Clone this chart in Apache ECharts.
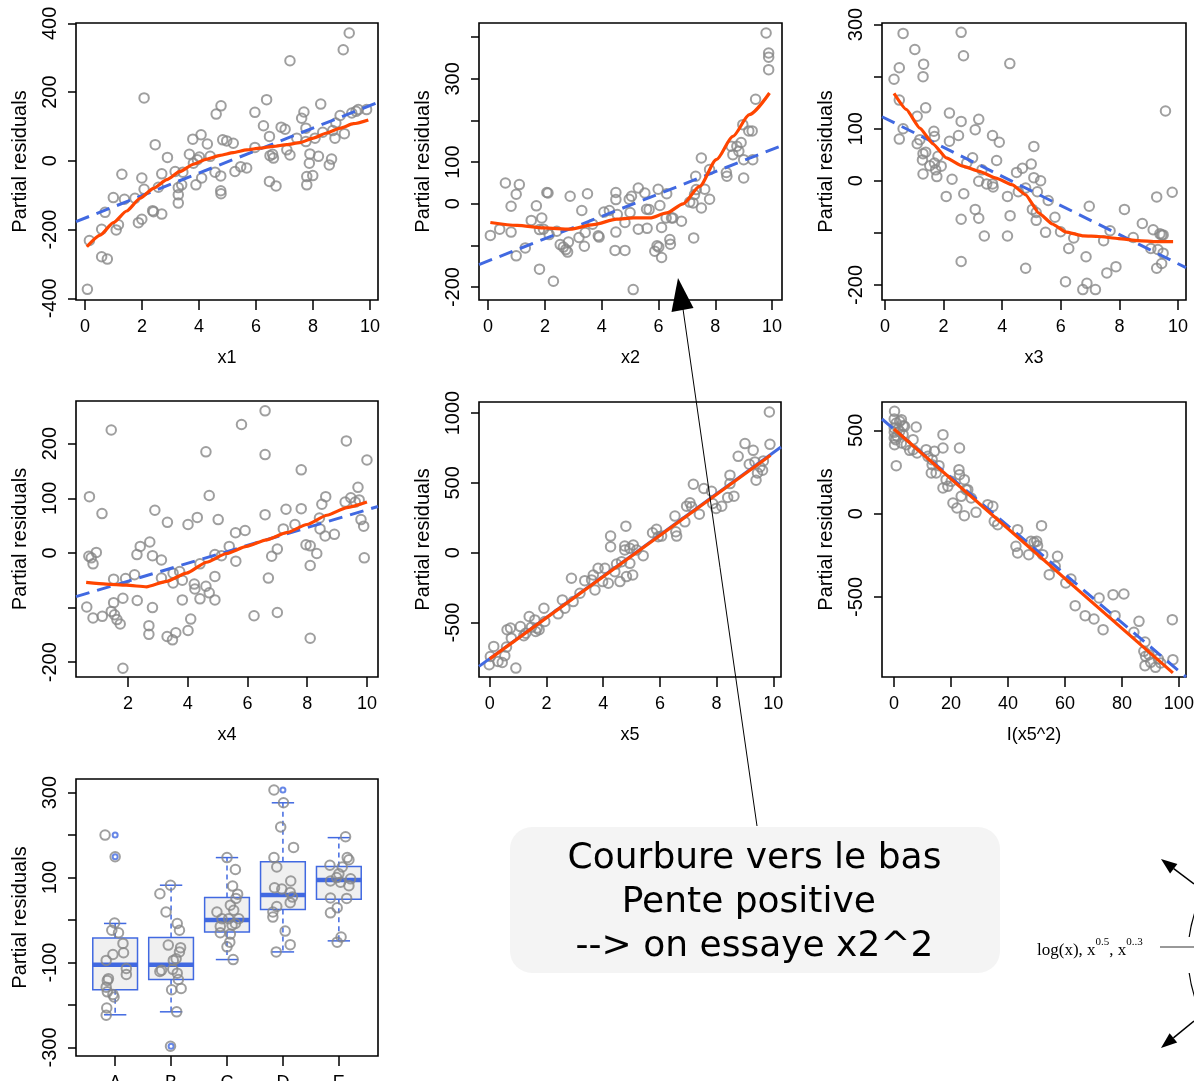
<!DOCTYPE html>
<html><head><meta charset="utf-8">
<script src="https://cdn.jsdelivr.net/npm/echarts@6/dist/echarts.min.js"></script>
<style>html,body{margin:0;padding:0;background:#fff}#c{width:1194px;height:1081px}</style>
</head><body><div id="c"></div>
<script>
// ---------- DATA ----------
const x1Pts = [[0.08,-374],[0.15,-232],[0.58,-199],[0.58,-279],[0.78,-286],[0.70,-150],[0.99,-107],[1.09,-201],[1.17,-186],[1.29,-39],[1.38,-112],[1.75,-109],[1.87,-180],[1.99,-170],[1.99,-50],[2.07,-83],[2.07,183],[2.37,-145],[2.40,-148],[2.46,47],[2.57,-77],[2.69,-155],[2.69,-38],[2.89,10],[3.16,-31],[3.27,-99],[3.27,-123],[3.27,-78],[3.39,-70],[3.43,-33],[3.66,19],[3.78,63],[3.80,-7],[3.89,-70],[3.94,3],[4.01,11],[4.09,-50],[4.07,76],[4.29,49],[4.39,13],[4.60,136],[4.56,-33],[4.77,160],[4.76,-44],[4.76,-87],[4.77,-96],[4.83,61],[4.97,58],[5.20,51],[5.26,-31],[5.46,-17],[5.67,-21],[5.96,141],[5.96,39],[6.26,102],[6.37,178],[6.47,71],[6.47,-60],[6.49,15],[6.58,19],[6.61,8],[6.70,-73],[6.88,98],[7.02,92],[7.08,32],[7.19,291],[7.19,17],[7.43,66],[7.60,124],[7.68,142],[7.75,95],[7.75,56],[7.78,-46],[7.78,-70],[7.87,-7],[7.89,20],[7.99,-43],[8.07,66],[8.19,13],[8.27,165],[8.34,83],[8.57,-12],[8.65,5],[8.69,88],[8.77,66],[8.80,110],[8.95,132],[9.06,323],[9.10,79],[9.27,372],[9.36,139],[9.51,144],[9.59,149],[9.88,149]];
const x1Fit = [[-0.32,-177],[10.28,170]];
const x1Smooth = [[0.06,-250],[0.53,-216],[0.99,-180],[1.46,-146],[1.93,-109],[2.40,-80],[2.87,-55],[3.33,-31],[3.80,-10],[4.27,5],[4.74,16],[5.20,24],[5.67,32],[6.14,37],[6.61,42],[7.08,47],[7.54,53],[8.01,66],[8.48,81],[8.95,95],[9.42,108],[9.94,119]];

const x2Pts = [[0.08,-76],[0.41,-61],[0.61,50],[0.81,-6],[0.81,-68],[0.99,23],[1.10,46],[0.99,-125],[1.31,-106],[1.52,-40],[1.70,-5],[1.81,-62],[1.81,-157],[1.89,-34],[1.95,-61],[2.07,27],[2.11,26],[2.15,-74],[2.30,-186],[2.42,-66],[2.54,-98],[2.65,-104],[2.74,-110],[2.80,-116],[2.83,-92],[2.89,18],[3.20,-81],[3.30,-16],[3.39,-102],[3.42,-69],[3.50,24],[3.68,-49],[3.88,-77],[3.91,-80],[4.08,-20],[4.27,-16],[4.47,-112],[4.50,27],[4.50,10],[4.50,-68],[4.55,-26],[4.82,-112],[4.82,-45],[4.97,11],[5.00,-21],[5.05,18],[5.11,-206],[5.29,38],[5.29,-61],[5.52,26],[5.58,-13],[5.60,-59],[5.67,-14],[5.87,-114],[5.95,-101],[5.99,35],[6.01,-104],[6.05,-4],[6.11,-57],[6.11,-129],[6.29,24],[6.27,-34],[6.40,-86],[6.42,-97],[6.46,-34],[6.51,-34],[6.81,-42],[7.10,4],[7.22,2],[7.24,-82],[7.27,22],[7.31,66],[7.33,34],[7.51,110],[7.51,-10],[7.63,35],[7.80,82],[7.80,11],[8.39,75],[8.41,66],[8.56,138],[8.62,118],[8.76,138],[8.83,126],[8.91,147],[9.00,62],[8.97,190],[9.00,106],[9.18,175],[9.30,175],[9.32,106],[9.42,251],[9.79,410],[9.88,362],[9.88,352],[9.88,322]];
const x2Fit = [[-0.32,-146],[10.35,140]];
const x2Smooth = [[0.08,-45],[1.02,-52],[1.95,-58],[2.89,-61],[3.71,-50],[4.53,-37],[5.11,-34],[5.70,-34],[6.29,-22],[6.87,0],[7.45,42],[8.04,106],[8.62,162],[9.20,214],[9.91,266]];

const x3Pts = [[0.31,195],[0.49,217],[0.49,155],[0.49,80],[0.62,283],[0.62,100],[1.02,252],[1.10,124],[1.10,71],[1.19,79],[1.32,224],[1.30,200],[1.30,52],[1.28,40],[1.30,13],[1.39,140],[1.39,55],[1.53,29],[1.67,95],[1.69,85],[1.69,34],[1.73,21],[1.77,8],[1.81,47],[1.92,28],[2.09,-30],[2.20,130],[2.20,76],[2.29,3],[2.51,87],[2.60,114],[2.60,285],[2.60,-74],[2.60,-155],[2.68,240],[2.69,-25],[2.79,34],[2.99,44],[3.08,-55],[3.08,98],[3.20,118],[3.20,-1],[3.20,-72],[3.31,21],[3.39,-106],[3.47,-6],[3.67,-6],[3.69,-12],[3.67,87],[3.81,39],[3.90,74],[4.18,-30],[4.18,-106],[4.26,225],[4.27,-67],[4.49,16],[4.55,-21],[4.69,24],[4.80,-168],[4.80,-14],[4.99,32],[5.08,66],[5.08,6],[5.03,-55],[5.16,-61],[5.16,-76],[5.20,-21],[5.31,0],[5.48,-99],[5.57,-38],[5.80,-70],[5.99,-98],[6.16,-194],[6.27,-130],[6.44,-110],[6.75,-209],[6.86,-146],[6.89,-197],[6.97,-49],[7.18,-209],[7.46,-115],[7.57,-177],[7.68,-96],[7.88,-165],[8.17,-55],[8.47,-109],[8.78,-82],[9.07,-130],[9.15,-94],[9.27,-31],[9.27,-168],[9.31,-132],[9.38,-102],[9.44,-104],[9.49,-104],[9.49,-139],[9.44,-159],[9.57,134],[9.80,-22]];
const x3Fit = [[-0.1,123],[10.27,-167]];
const x3Smooth = [[0.31,168],[0.73,137],[1.19,101],[1.64,71],[2.09,44],[2.66,28],[3.22,18],[3.79,5],[4.35,-8],[4.80,-27],[5.25,-62],[5.71,-83],[6.16,-98],[6.78,-106],[7.29,-107],[7.97,-111],[8.64,-115],[9.27,-117],[9.83,-117]];

const x4Pts = [[0.62,-99],[0.71,103],[0.69,-6],[0.77,-9],[0.83,-20],[0.83,-119],[0.94,1],[1.13,72],[1.14,-116],[1.44,225],[1.44,-107],[1.52,-91],[1.52,-48],[1.55,-113],[1.63,-122],[1.74,-130],[1.83,-83],[1.83,-211],[1.92,-47],[2.22,-40],[2.30,-3],[2.31,-87],[2.41,12],[2.70,-133],[2.70,-149],[2.73,20],[2.82,-5],[2.82,-100],[2.90,78],[3.12,-13],[3.12,-46],[3.31,-153],[3.32,56],[3.49,-159],[3.51,-37],[3.51,-55],[3.60,-146],[3.73,-34],[3.82,-50],[3.82,-86],[4.01,52],[4.01,-142],[4.10,-121],[4.22,-57],[4.24,-66],[4.32,65],[4.41,-20],[4.41,-84],[4.61,-61],[4.61,185],[4.72,105],[4.72,-73],[4.91,-43],[4.91,-86],[4.91,-3],[5.02,61],[5.13,-5],[5.39,12],[5.60,37],[5.61,-15],[5.80,235],[5.92,41],[6.22,-115],[6.59,260],[6.59,180],[6.59,70],[6.70,-46],[6.81,-6],[7.00,7],[7.00,-109],[7.20,44],[7.29,80],[7.59,52],[7.80,152],[7.80,81],[7.96,15],[8.10,13],[8.10,-23],[8.10,-156],[8.32,-1],[8.41,64],[8.43,44],[8.49,89],[8.60,31],[8.62,103],[8.91,34],[9.27,93],[9.31,205],[9.46,101],[9.61,93],[9.70,120],[9.74,97],[9.80,61],[9.89,49],[9.91,-9],[10.00,170]];
const x4Fit = [[0.26,-80],[10.37,85]];
const x4Smooth = [[0.60,-54],[1.27,-57],[1.94,-59],[2.62,-62],[3.29,-52],[3.96,-37],[4.63,-17],[5.30,-1],[5.97,12],[6.64,24],[7.31,37],[7.99,52],[8.66,69],[9.33,83],[10.00,93]];

const x5Pts = [[-0.02,-802],[0.02,-743],[0.14,-671],[0.29,-779],[0.44,-786],[0.53,-738],[0.59,-676],[0.61,-552],[0.73,-540],[0.76,-612],[0.92,-826],[1.08,-529],[1.20,-595],[1.27,-576],[1.39,-457],[1.47,-533],[1.59,-481],[1.62,-564],[1.67,-540],[1.74,-552],[1.91,-398],[1.94,-493],[2.41,-438],[2.56,-338],[2.65,-398],[2.88,-183],[2.94,-350],[3.18,-290],[3.35,-200],[3.59,-195],[3.65,-160],[3.71,-267],[3.82,-112],[3.98,-207],[4.06,-112],[4.18,-219],[4.26,119],[4.26,43],[4.41,-136],[4.47,-81],[4.59,-207],[4.65,-64],[4.80,190],[4.76,48],[4.76,19],[4.82,-171],[4.94,31],[4.94,-76],[5.04,-160],[5.06,55],[5.18,19],[5.41,-21],[5.74,143],[5.88,167],[5.94,114],[6.06,119],[6.53,262],[6.56,150],[6.59,119],[6.88,221],[6.94,333],[7.06,357],[7.12,329],[7.18,490],[7.39,276],[7.55,460],[7.82,440],[7.86,352],[7.98,317],[8.18,333],[8.39,395],[8.47,555],[8.47,495],[8.61,405],[8.76,690],[9.00,781],[9.15,633],[9.29,733],[9.35,650],[9.39,519],[9.44,571],[9.53,614],[9.62,590],[9.65,657],[9.86,1007],[9.88,776]];
const x5Fit = [[-0.38,-814],[10.27,757]];
const x5Smooth = [[0,-760],[9.9,698]];

const x5sqPts = [[0.2,614],[0.1,568],[0.8,544],[0.1,514],[2.0,554],[1.4,508],[0.1,488],[0.1,454],[0.6,444],[2.6,564],[3.2,528],[3.7,524],[2.0,494],[0.2,414],[1.1,464],[2.6,424],[3.2,474],[4.3,414],[0.8,288],[6.7,444],[5.5,380],[6.7,384],[7.8,520],[8.1,364],[11.3,384],[11.9,344],[13.4,324],[14.2,374],[13.4,294],[13.1,244],[14.8,244],[15.8,288],[17.2,474],[17.2,394],[17.2,154],[18.3,204],[18.9,164],[20.1,194],[20.7,64],[22.1,34],[22.8,264],[23.0,394],[23.0,234],[23.6,104],[24.7,204],[24.7,-12],[25.3,144],[25.9,144],[27.1,94],[28.8,8],[32.9,54],[34.7,44],[35.2,-46],[36.4,-66],[43.4,-96],[42.8,-196],[43.4,-236],[47.3,-246],[48.1,-166],[49.2,-172],[50.1,-166],[50.4,-192],[51.8,-72],[52.2,-246],[54.5,-366],[57.4,-256],[56.6,-316],[60.3,-416],[62.1,-392],[63.6,-552],[67.1,-612],[70.2,-632],[72.0,-506],[73.4,-696],[76.9,-486],[77.6,-612],[80.7,-482],[84.2,-712],[86.0,-646],[88.1,-770],[87.7,-826],[88.3,-856],[88.1,-912],[89.5,-846],[90.1,-892],[91.8,-922],[92.8,-872],[93.6,-896],[97.7,-636],[97.9,-876]];
const x5sqFit = [[-4.2,568],[102.5,-980]];
const x5sqSmooth = [[0,508],[97.9,-955]];

const boxCats = ['A','B','C','D','E'];
// [lower whisker, Q1, median, Q3, upper whisker]
const boxStats = [[-223,-164,-105,-42,-8],[-216,-140,-105,-41,82],[-93,-28,0,53,147],[-75,25,59,137,276],[-49,49,94,126,194]];
const boxOutliers = [[1,200],[1,149],[2,-297],[4,306]];
// partial residuals per category: [jitter offset, value]
const boxPtsA = [[-0.18,200],[0,149],[-0.01,-7],[-0.06,-24],[0.06,-30],[0.14,-55],[-0.04,-81],[0.15,-77],[-0.16,-95],[0.2,-114],[0.2,-128],[-0.12,-138],[-0.14,-142],[-0.16,-158],[-0.14,-169],[-0.04,-175],[-0.02,-181],[-0.15,-207],[-0.16,-224]];
const boxPtsB = [[-0.01,82],[-0.2,62],[-0.09,19],[0.11,-8],[0.15,-24],[-0.05,-59],[0.17,-65],[0.15,-75],[0.09,-91],[0.04,-95],[-0.17,-118],[-0.2,-121],[0.03,-116],[0.11,-125],[0.13,-140],[0.18,-161],[0.01,-164],[0.1,-216],[-0.01,-297]];
const boxPtsC = [[0,147],[0.15,119],[0.1,80],[0.19,61],[0.16,51],[0.06,35],[-0.18,19],[0.12,23],[-0.09,3],[0.03,3],[0.21,3],[-0.12,-15],[0.09,-12],[0.15,-8],[0.06,-33],[-0.12,-30],[0.05,-52],[0,-63],[0.11,-93]];
const boxPtsD = [[-0.16,306],[0.01,276],[-0.04,219],[0.19,171],[-0.16,147],[-0.11,125],[0.14,92],[-0.15,76],[-0.02,73],[0.13,65],[0.17,54],[0.13,41],[-0.11,32],[-0.18,19],[-0.18,7],[0.04,-26],[0.13,-58],[-0.12,-75]];
const boxPtsE = [[0.12,196],[0.15,147],[0.18,142],[-0.16,129],[0.06,125],[0,109],[0.21,97],[-0.15,92],[-0.04,100],[0.03,89],[0.18,81],[-0.15,52],[0.14,51],[-0.03,29],[-0.15,17],[0.04,-40],[-0.03,-52]];

// tick values
const ticks010 = [0,2,4,6,8,10];
const ticks210 = [2,4,6,8,10];
const ticks0100 = [0,20,40,60,80,100];
const ticksCat = [1,2,3,4,5];

// ---------- STYLE ----------
const FONT = '"Liberation Sans", Arial, Helvetica, sans-serif';
const GRAY = '#878787', BLUE = '#4169E1', RED = '#FF4500';

const gridsPx = [
  [76,23,302,277],[479,23,303,277],[882,23,304,277],
  [76,401,302,276],[479,402,302,275],[882,402,304,275],
  [76,779,302,277]
];
const grid = gridsPx.map(g => ({left:g[0], top:g[1], width:g[2], height:g[3], show:true,
  borderColor:'#000', borderWidth:1.6, backgroundColor:'rgba(0,0,0,0)', containLabel:false, outerBoundsMode:'none'}));

const plain = v => String(v);
function mkX(i, min, max, ticks, name, fmt) {
  return {type:'value', gridIndex:i, min, max, name, nameLocation:'middle', nameGap:49,
    nameTextStyle:{fontFamily:FONT, fontSize:18, color:'#000'},
    axisLine:{show:false, onZero:false}, splitLine:{show:false},
    axisTick:{show:true, inside:false, length:10, lineStyle:{color:'#000', width:1.5}, customValues:ticks},
    axisLabel:{show:true, margin:18, fontFamily:FONT, fontSize:18, color:'#000', customValues:ticks, formatter:fmt || plain}};
}
function mkY(i, min, max, ticks, labels) {
  return {type:'value', gridIndex:i, min, max, name:'Partial residuals', nameLocation:'middle', nameGap:46,
    nameTextStyle:{fontFamily:FONT, fontSize:20, color:'#000'},
    axisLine:{show:false, onZero:false}, splitLine:{show:false},
    axisTick:{show:true, inside:false, length:8, lineStyle:{color:'#000', width:1.5}, customValues:ticks},
    axisLabel:{show:true, rotate:90, margin:16, fontFamily:FONT, fontSize:20, color:'#000', customValues:labels, formatter:plain}};
}

const xAxis = [
  mkX(0,-0.32,10.28,ticks010,'x1'),
  mkX(1,-0.32,10.35,ticks010,'x2'),
  mkX(2,-0.1,10.27,ticks010,'x3'),
  mkX(3,0.26,10.37,ticks210,'x4'),
  mkX(4,-0.38,10.27,ticks010,'x5'),
  mkX(5,-4.2,102.5,ticks0100,'I(x5^2)'),
  mkX(6,0.3,5.7,ticksCat,'', v => boxCats[Math.round(v)-1])
];
const yAxis = [
  mkY(0,-405,401,[-400,-200,0,200,400],[-400,-200,0,200,400]),
  mkY(1,-231,434,[-200,-100,0,100,200,300,400],[-200,0,100,300]),
  mkY(2,-229,303,[-200,-100,0,100,200,300],[-200,0,100,300]),
  mkY(3,-227,278,[-200,-100,0,100,200],[-200,0,100,200]),
  mkY(4,-890,1079,[-500,0,500,1000],[-500,0,500,1000]),
  mkY(5,-980,670,[-500,0,500],[-500,0,500]),
  mkY(6,-320,332,[-300,-200,-100,0,100,200,300],[-300,-100,100,300])
];

const panels = [
  {pts:x1Pts, fit:x1Fit, sm:x1Smooth, dash:true, s:0.2},
  {pts:x2Pts, fit:x2Fit, sm:x2Smooth, dash:true, s:0.25},
  {pts:x3Pts, fit:x3Fit, sm:x3Smooth, dash:true, s:0.15},
  {pts:x4Pts, fit:x4Fit, sm:x4Smooth, dash:true, s:0.2},
  {pts:x5Pts, fit:x5Fit, sm:x5Smooth, dash:false, s:0},
  {pts:x5sqPts, fit:x5sqFit, sm:x5sqSmooth, dash:true, s:0}
];
const ptStyle = {color:'rgba(0,0,0,0)', borderColor:GRAY, borderWidth:2};
const series = [];
panels.forEach((p,i) => {
  series.push({type:'scatter', xAxisIndex:i, yAxisIndex:i, data:p.pts, symbol:'circle', symbolSize:9.5,
    itemStyle:ptStyle, silent:true, z:2});
  series.push({type:'line', xAxisIndex:i, yAxisIndex:i, data:p.fit, symbol:'none', showSymbol:false,
    lineStyle:{color:BLUE, width:3, type:p.dash ? [14,8] : 'solid'}, silent:true, z:3});
  series.push({type:'line', xAxisIndex:i, yAxisIndex:i, data:p.sm, symbol:'none', showSymbol:false,
    smooth:p.s, smoothMonotone:'x', lineStyle:{color:RED, width:3.2}, silent:true, z:4});
});

// boxplot panel
const boxData = boxStats.map((s,k) => [k+1].concat(s));
series.push({type:'custom', xAxisIndex:6, yAxisIndex:6, data:boxData, silent:true, z:2,
  encode:{x:0, y:[1,2,3,4,5]},
  renderItem:(params, api) => {
    const x = api.value(0);
    const lo = api.coord([x, api.value(1)]), q1 = api.coord([x, api.value(2)]),
          md = api.coord([x, api.value(3)]), q3 = api.coord([x, api.value(4)]),
          hi = api.coord([x, api.value(5)]);
    const hw = api.size([0.4, 0])[0], cw = api.size([0.2, 0])[0];
    const cx = md[0];
    const ws = {stroke:BLUE, lineWidth:1.5, lineDash:[5,4]};
    const ss = {stroke:BLUE, lineWidth:1.5};
    return {type:'group', children:[
      {type:'line', shape:{x1:cx, y1:q3[1], x2:cx, y2:hi[1]}, style:ws},
      {type:'line', shape:{x1:cx, y1:q1[1], x2:cx, y2:lo[1]}, style:ws},
      {type:'line', shape:{x1:cx-cw, y1:hi[1], x2:cx+cw, y2:hi[1]}, style:ss},
      {type:'line', shape:{x1:cx-cw, y1:lo[1], x2:cx+cw, y2:lo[1]}, style:ss},
      {type:'rect', shape:{x:cx-hw, y:q3[1], width:2*hw, height:q1[1]-q3[1]}, style:{fill:'#f0f0f0', stroke:BLUE, lineWidth:1.5}},
      {type:'line', shape:{x1:cx-hw, y1:md[1], x2:cx+hw, y2:md[1]}, style:{stroke:BLUE, lineWidth:4.5}}
    ]};
  }});
series.push({type:'scatter', xAxisIndex:6, yAxisIndex:6, data:boxOutliers, symbol:'circle', symbolSize:5,
  itemStyle:{color:'rgba(0,0,0,0)', borderColor:BLUE, borderWidth:2}, silent:true, z:3});
const boxGroups = [boxPtsA, boxPtsB, boxPtsC, boxPtsD, boxPtsE];
const boxPts = [];
boxGroups.forEach((g,k) => g.forEach(p => boxPts.push([k+1+p[0], p[1]])));
series.push({type:'scatter', xAxisIndex:6, yAxisIndex:6, data:boxPts, symbol:'circle', symbolSize:9.5,
  itemStyle:ptStyle, silent:true, z:4});

// ---------- ANNOTATIONS ----------
const graphic = [
  {type:'rect', z:50, shape:{x:510, y:827, width:490, height:146, r:22}, style:{fill:'#f4f4f4'}},
  {type:'text', z:51, style:{text:'Courbure vers le bas\nPente positive \n--> on essaye x2^2', x:754.5, y:903,
    font:'36px "DejaVu Sans"', fill:'#000', textAlign:'center', textVerticalAlign:'middle', lineHeight:44}},
  {type:'line', z:60, shape:{x1:757, y1:826, x2:683, y2:309}, style:{stroke:'#000', lineWidth:1}},
  {type:'polygon', z:61, shape:{points:[[678,278],[671.5,312],[693.5,308]]}, style:{fill:'#000'}},
  {type:'text', z:51, style:{text:'{a|log(x), x}{s|0.5}{a|, x}{s|0..3}', x:1037, y:948, textAlign:'left', textVerticalAlign:'middle',
    rich:{a:{font:'17px "Liberation Serif"', fill:'#000', lineHeight:22, verticalAlign:'bottom'},
          s:{font:'11px "Liberation Serif"', fill:'#000', lineHeight:22, verticalAlign:'top'}}}},
  {type:'line', z:51, shape:{x1:1160, y1:947, x2:1194, y2:947}, style:{stroke:'#333', lineWidth:1}},
  {type:'arc', z:51, shape:{cx:1324, cy:955, r:136, startAngle:3.274, endAngle:3.518, clockwise:true}, style:{stroke:'#000', fill:null, lineWidth:1.2}},
  {type:'arc', z:51, shape:{cx:1324, cy:955, r:136, startAngle:2.765, endAngle:3.009, clockwise:true}, style:{stroke:'#000', fill:null, lineWidth:1.2}},
  {type:'line', z:51, shape:{x1:1194, y1:884, x2:1173.7, y2:868.7}, style:{stroke:'#000', lineWidth:1.5}},
  {type:'polygon', z:51, shape:{points:[[1161,859],[1177.4,863.9],[1170.1,873.4]]}, style:{fill:'#000'}},
  {type:'line', z:51, shape:{x1:1194, y1:1021, x2:1173.4, y2:1037.9}, style:{stroke:'#000', lineWidth:1.5}},
  {type:'polygon', z:51, shape:{points:[[1161,1048],[1169.6,1033.3],[1177.2,1042.5]]}, style:{fill:'#000'}}
];

const chart = echarts.init(document.getElementById('c'), null, {renderer:'canvas'});
chart.setOption({animation:false, backgroundColor:'#fff', grid, xAxis, yAxis, series, graphic});
</script></body></html>
